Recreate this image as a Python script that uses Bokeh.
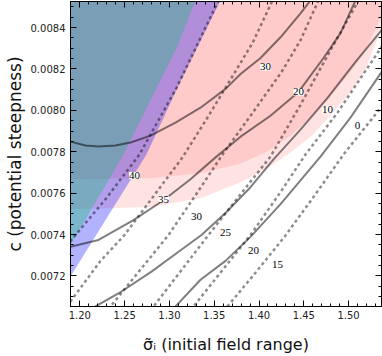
from bokeh.plotting import figure
from bokeh.models import (Range1d, LinearAxis, SingleIntervalTicker, FixedTicker,
                          PrintfTickFormatter, ColumnDataSource, LabelSet)
from bokeh.embed import file_html
from bokeh.resources import INLINE

# ---------------- data ----------------
X_MIN, X_MAX = 1.1896, 1.5367
Y_MIN, Y_MAX = 0.0070526, 0.008526

# solid contours (labelled 30, 20, 10, 0)
solid_30_x = [1.1896, 1.2064, 1.2209, 1.2398, 1.2566, 1.2789, 1.3068, 1.3347, 1.3626, 1.3794, 1.4017, 1.4240, 1.4463, 1.4575, 1.4630]
solid_30_y = [0.007849, 0.007830, 0.007825, 0.007830, 0.007845, 0.007878, 0.007941, 0.008013, 0.008104, 0.008176, 0.008253, 0.008353, 0.008469, 0.008531, 0.008570]
solid_20_x = [1.1896, 1.2209, 1.2599, 1.2934, 1.3235, 1.3515, 1.3794, 1.4128, 1.4441, 1.4720, 1.4910, 1.5077, 1.5110]
solid_20_y = [0.007341, 0.007374, 0.007470, 0.007566, 0.007667, 0.007773, 0.007873, 0.007974, 0.008089, 0.008253, 0.008373, 0.008531, 0.008570]
solid_10_x = [1.2064, 1.2175, 1.2465, 1.2800, 1.3102, 1.3358, 1.3626, 1.3905, 1.4162, 1.4463, 1.4765, 1.5077, 1.5367, 1.5450]
solid_10_y = [0.007019, 0.007053, 0.007125, 0.007221, 0.007317, 0.007398, 0.007504, 0.007629, 0.007763, 0.007907, 0.008060, 0.008234, 0.008387, 0.008430]
solid_0_x = [1.2890, 1.3068, 1.3347, 1.3626, 1.3905, 1.4240, 1.4686, 1.5021, 1.5367, 1.5450]
solid_0_y = [0.007014, 0.007053, 0.007182, 0.007273, 0.007389, 0.007547, 0.007777, 0.007965, 0.008185, 0.008240]

# dashed contours (labelled 40, 35, 30, 25, 20, 15)
dash_40_x = [1.1807, 1.1896, 1.2287, 1.2666, 1.3079, 1.3548, 1.3580]
dash_40_y = [0.007321, 0.007369, 0.007571, 0.007787, 0.008109, 0.008531, 0.008570]
dash_35_x = [1.1851, 1.1896, 1.2231, 1.2499, 1.2789, 1.3146, 1.3403, 1.3626, 1.3927, 1.4151, 1.4180]
dash_35_y = [0.007053, 0.007077, 0.007273, 0.007398, 0.007566, 0.007773, 0.007950, 0.008109, 0.008325, 0.008531, 0.008570]
dash_30_x = [1.2231, 1.2343, 1.2990, 1.3291, 1.3593, 1.3905, 1.4251, 1.4463, 1.4664, 1.4690]
dash_30_y = [0.006995, 0.007053, 0.007398, 0.007590, 0.007787, 0.007974, 0.008185, 0.008339, 0.008531, 0.008570]
dash_25_x = [1.2750, 1.2823, 1.3436, 1.3794, 1.4128, 1.4463, 1.4798, 1.5111, 1.5140]
dash_25_y = [0.007010, 0.007053, 0.007398, 0.007595, 0.007777, 0.008027, 0.008291, 0.008531, 0.008570]
dash_20_x = [1.3200, 1.3269, 1.3905, 1.4240, 1.4519, 1.4876, 1.5367, 1.5450]
dash_20_y = [0.007010, 0.007053, 0.007398, 0.007605, 0.007787, 0.007989, 0.008306, 0.008360]
dash_15_x = [1.3570, 1.3648, 1.3961, 1.4284, 1.4614, 1.4943, 1.5367, 1.5450]
dash_15_y = [0.007005, 0.007053, 0.007216, 0.007389, 0.007585, 0.007787, 0.008017, 0.008060]

# shaded regions: lower edges of the two pink bands, edges of blue and teal wedges
pink_dark_x = [1.1896, 1.2789, 1.3347, 1.3794, 1.4073, 1.4352, 1.4575, 1.4798, 1.5021, 1.5189, 1.5367]
pink_dark_y = [0.007667, 0.007672, 0.007696, 0.007744, 0.007797, 0.007878, 0.007965, 0.008070, 0.008185, 0.008291, 0.008454]
pink_light_x = [1.1896, 1.2789, 1.3347, 1.3794, 1.4073, 1.4352, 1.4575, 1.4798, 1.5021, 1.5189, 1.5367]
pink_light_y = [0.007523, 0.007533, 0.007576, 0.007653, 0.007715, 0.007797, 0.007873, 0.007974, 0.008089, 0.008195, 0.008397]
blue_edge_x = [1.1673, 1.1896, 1.2320, 1.2744, 1.3079, 1.3570, 1.3626]
blue_edge_y = [0.006965, 0.007197, 0.007494, 0.007787, 0.008099, 0.008531, 0.008579]
teal_edge_x = [1.1729, 1.1896, 1.2488, 1.2789, 1.3079, 1.3291, 1.3336]
teal_edge_y = [0.007225, 0.007350, 0.007787, 0.008051, 0.008301, 0.008531, 0.008579]

# contour labels
label_text = ["30", "20", "10", "0", "40", "35", "30", "25", "20", "15"]
label_x = [1.4073, 1.4441, 1.4765, 1.5100, 1.2610, 1.2934, 1.3302, 1.3626, 1.3938, 1.4206]
label_y = [0.008210, 0.008089, 0.008003, 0.007926, 0.007686, 0.007571, 0.007489, 0.007408, 0.007321, 0.007254]

x_ticks_interval = 0.05
y_ticks_interval = 0.0002

# ---------------- figure ----------------
p = figure(width=382, height=356, output_backend="svg", toolbar_location=None,
           x_range=Range1d(X_MIN, X_MAX), y_range=Range1d(Y_MIN, Y_MAX),
           min_border_left=70, min_border_right=1, min_border_top=1, min_border_bottom=48,
           x_axis_label="σ̃ᵢ (initial field range)", y_axis_label="c (potential steepness)")
p.grid.visible = False
p.outline_line_color = "black"
p.outline_line_width = 1
p.background_fill_color = "white"

XL, XR = X_MIN - 0.1, X_MAX + 0.1
YT = Y_MAX + 0.001

def upper_region(ex, ey):
    xs = [XL] + ex + [XR, XR, XL]
    ys = [ey[0]] + ey + [ey[-1] + 0.0005, YT, YT]
    return xs, ys

def left_region(ex, ey):
    xs = ex + [XL, XL]
    ys = ey + [YT, ey[0]]
    return xs, ys

lx, ly = upper_region(pink_light_x, pink_light_y)
p.patch(lx, ly, fill_color="#ff0000", fill_alpha=0.11, line_color=None)
dx, dy = upper_region(pink_dark_x, pink_dark_y)
p.patch(dx, dy, fill_color="#ff0000", fill_alpha=0.11, line_color=None)
bx, by = left_region(blue_edge_x, blue_edge_y)
p.patch(bx, by, fill_color="#0000ff", fill_alpha=0.30, line_color=None)
tx, ty = left_region(teal_edge_x, teal_edge_y)
p.patch(tx, ty, fill_color="#10c070", fill_alpha=0.35, line_color=None)

for xs, ys in [(solid_30_x, solid_30_y), (solid_20_x, solid_20_y),
               (solid_10_x, solid_10_y), (solid_0_x, solid_0_y)]:
    p.line(xs, ys, line_color="black", line_alpha=0.5, line_width=2)
for xs, ys in [(dash_40_x, dash_40_y), (dash_35_x, dash_35_y), (dash_30_x, dash_30_y),
               (dash_25_x, dash_25_y), (dash_20_x, dash_20_y), (dash_15_x, dash_15_y)]:
    p.line(xs, ys, line_color="black", line_alpha=0.45, line_width=2.5, line_dash="3 3")

src = ColumnDataSource(dict(x=label_x, y=label_y, t=label_text))
p.add_layout(LabelSet(x="x", y="y", text="t", source=src, text_align="center",
                      text_baseline="middle", text_font_size="11px", text_font="DejaVu Sans",
                      text_color="black", background_fill_color="white",
                      background_fill_alpha=1.0))

# axes
xt = SingleIntervalTicker(interval=x_ticks_interval, num_minor_ticks=5)
yt = SingleIntervalTicker(interval=y_ticks_interval, num_minor_ticks=4)
for ax, tk, fmt in [(p.xaxis[0], xt, "%.2f"), (p.yaxis[0], yt, "%.4f")]:
    ax.ticker = tk
    ax.formatter = PrintfTickFormatter(format=fmt)
    ax.major_tick_in = 6
    ax.major_tick_out = 0
    ax.minor_tick_in = 3
    ax.minor_tick_out = 0
    ax.major_label_text_font = "DejaVu Sans"
    ax.major_label_text_font_size = "10px"
    ax.major_label_text_color = "#222222"
    ax.axis_label_text_font = "DejaVu Sans"
    ax.axis_label_text_font_style = "normal"
    ax.axis_label_text_color = "#111111"
    ax.axis_line_color = "black"
    ax.major_tick_line_color = "black"
    ax.minor_tick_line_color = "black"
p.xaxis[0].axis_label_text_font_size = "16px"
p.yaxis[0].axis_label_text_font_size = "17px"
p.xaxis[0].major_label_standoff = 4
p.xaxis[0].axis_label_standoff = 13
p.yaxis[0].major_label_standoff = 5
p.yaxis[0].axis_label_standoff = 3

# mirrored ticks on top and right (no labels): majors and minors as two tick-only axes
x_all = [round(1.10 + 0.01 * i, 2) for i in range(50)]
y_all = [round(0.0068 + 0.00005 * i, 5) for i in range(40)]
x_major = [v for v in x_all if abs(v / x_ticks_interval - round(v / x_ticks_interval)) < 1e-6]
y_major = [v for v in y_all if abs(v / y_ticks_interval - round(v / y_ticks_interval)) < 1e-6]
x_minor = [v for v in x_all if v not in x_major]
y_minor = [v for v in y_all if v not in y_major]

for loc, mj, mn in [("above", x_major, x_minor), ("right", y_major, y_minor)]:
    for ticks, length in [(mj, 6), (mn, 3)]:
        ax = LinearAxis(ticker=FixedTicker(ticks=[], minor_ticks=ticks),
                        major_tick_in=0, major_tick_out=0, minor_tick_in=length, minor_tick_out=0,
                        major_label_standoff=0, axis_line_color="black",
                        minor_tick_line_color="black")
        p.add_layout(ax, loc)

open("out.html", "w").write(file_html(p, INLINE))
